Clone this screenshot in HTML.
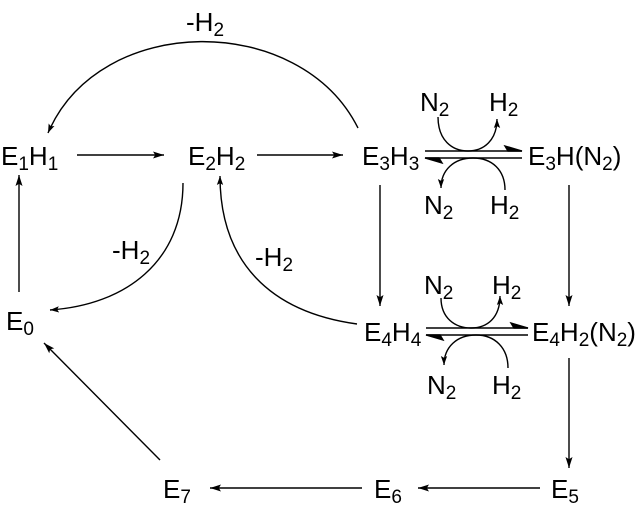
<!DOCTYPE html>
<html><head><meta charset="utf-8"><style>
html,body{margin:0;padding:0;background:#fff;}
svg{display:block;}
text{font-family:"Liberation Sans",Arial,sans-serif;font-size:26px;fill:#000;}
.s{font-size:19px;}
</style></head><body>
<svg width="644" height="523" viewBox="0 0 644 523" xmlns="http://www.w3.org/2000/svg">
<defs>
<marker id="a" viewBox="0 0 10 10" refX="10" refY="5" markerWidth="9" markerHeight="9" markerUnits="userSpaceOnUse" orient="auto">
<path d="M0,1.5 L10,5 L0,8.5 L2,5 z" fill="#000"/></marker>
<marker id="b" viewBox="0 0 10 10" refX="10" refY="5" markerWidth="11" markerHeight="11" markerUnits="userSpaceOnUse" orient="auto">
<path d="M0,1.8 L10,5 L0,8.2 L2,5 z" fill="#000"/></marker>
</defs>
<g stroke="#000" stroke-width="1.4" fill="none">
<line x1="77" y1="155" x2="164" y2="155" marker-end="url(#b)"/>
<line x1="257" y1="155" x2="343" y2="155" marker-end="url(#b)"/>
<path d="M358,128 C300,12 100,12 48,133" marker-end="url(#a)"/>
<line x1="19" y1="292" x2="19" y2="175" marker-end="url(#b)"/>
<path d="M183,183 C183,262 125,305 50,310" marker-end="url(#a)"/>
<path d="M357,324 C270,312 220,262 220,176" marker-end="url(#a)"/>
<line x1="380" y1="185" x2="380" y2="306" marker-end="url(#b)"/>
<line x1="569" y1="185" x2="569" y2="306" marker-end="url(#b)"/>
<line x1="569" y1="358" x2="569" y2="468" marker-end="url(#b)"/>
<line x1="540" y1="488" x2="418" y2="488" marker-end="url(#b)"/>
<line x1="362" y1="488" x2="210" y2="488" marker-end="url(#b)"/>
<line x1="160" y1="460" x2="44" y2="343" marker-end="url(#b)"/>
<line x1="425" y1="151" x2="522" y2="151"/>
<line x1="425" y1="158" x2="522" y2="158"/>
<path d="M522,151 L505,146 L508,151 z" fill="#000"/>
<path d="M425,158 L442,163 L439,158 z" fill="#000"/>
<path d="M438,117 C438,140 452,151 468,151 C484,151 497,140 497,119" marker-end="url(#a)"/>
<path d="M505,190 C505,170 492,158 473,158 C454,158 441,170 441,188" marker-end="url(#a)"/>
<line x1="426" y1="328" x2="528" y2="328"/>
<line x1="426" y1="335" x2="528" y2="335"/>
<path d="M528,328 L511,323 L514,328 z" fill="#000"/>
<path d="M426,335 L443,340 L440,335 z" fill="#000"/>
<path d="M441,298 C441,318 455,328 471,328 C487,328 500,318 500,296" marker-end="url(#a)"/>
<path d="M508,368 C508,348 495,335 476,335 C457,335 444,347 444,365" marker-end="url(#a)"/>
</g>
<text x="1" y="165">E<tspan class="s" dy="5">1</tspan><tspan dy="-5">H</tspan><tspan class="s" dy="5">1</tspan></text>
<text x="188" y="165">E<tspan class="s" dy="5">2</tspan><tspan dy="-5">H</tspan><tspan class="s" dy="5">2</tspan></text>
<text x="362" y="165">E<tspan class="s" dy="5">3</tspan><tspan dy="-5">H</tspan><tspan class="s" dy="5">3</tspan></text>
<text x="528" y="165">E<tspan class="s" dy="5">3</tspan><tspan dy="-5">H(N</tspan><tspan class="s" dy="5">2</tspan><tspan dy="-5">)</tspan></text>
<text x="6" y="330">E<tspan class="s" dy="5">0</tspan></text>
<text x="364" y="341">E<tspan class="s" dy="5">4</tspan><tspan dy="-5">H</tspan><tspan class="s" dy="5">4</tspan></text>
<text x="532" y="341">E<tspan class="s" dy="5">4</tspan><tspan dy="-5">H</tspan><tspan class="s" dy="5">2</tspan><tspan dy="-5">(N</tspan><tspan class="s" dy="5">2</tspan><tspan dy="-5">)</tspan></text>
<text x="163" y="498">E<tspan class="s" dy="5">7</tspan></text>
<text x="374" y="498">E<tspan class="s" dy="5">6</tspan></text>
<text x="551" y="498">E<tspan class="s" dy="5">5</tspan></text>
<text x="186" y="31">-H<tspan class="s" dy="5">2</tspan></text>
<text x="112" y="259">-H<tspan class="s" dy="5">2</tspan></text>
<text x="255" y="266">-H<tspan class="s" dy="5">2</tspan></text>
<text x="420" y="111">N<tspan class="s" dy="5">2</tspan></text>
<text x="489" y="111">H<tspan class="s" dy="5">2</tspan></text>
<text x="424" y="214">N<tspan class="s" dy="5">2</tspan></text>
<text x="490" y="214">H<tspan class="s" dy="5">2</tspan></text>
<text x="424" y="294">N<tspan class="s" dy="5">2</tspan></text>
<text x="492" y="294">H<tspan class="s" dy="5">2</tspan></text>
<text x="427" y="394">N<tspan class="s" dy="5">2</tspan></text>
<text x="492" y="394">H<tspan class="s" dy="5">2</tspan></text>
</svg>
</body></html>
